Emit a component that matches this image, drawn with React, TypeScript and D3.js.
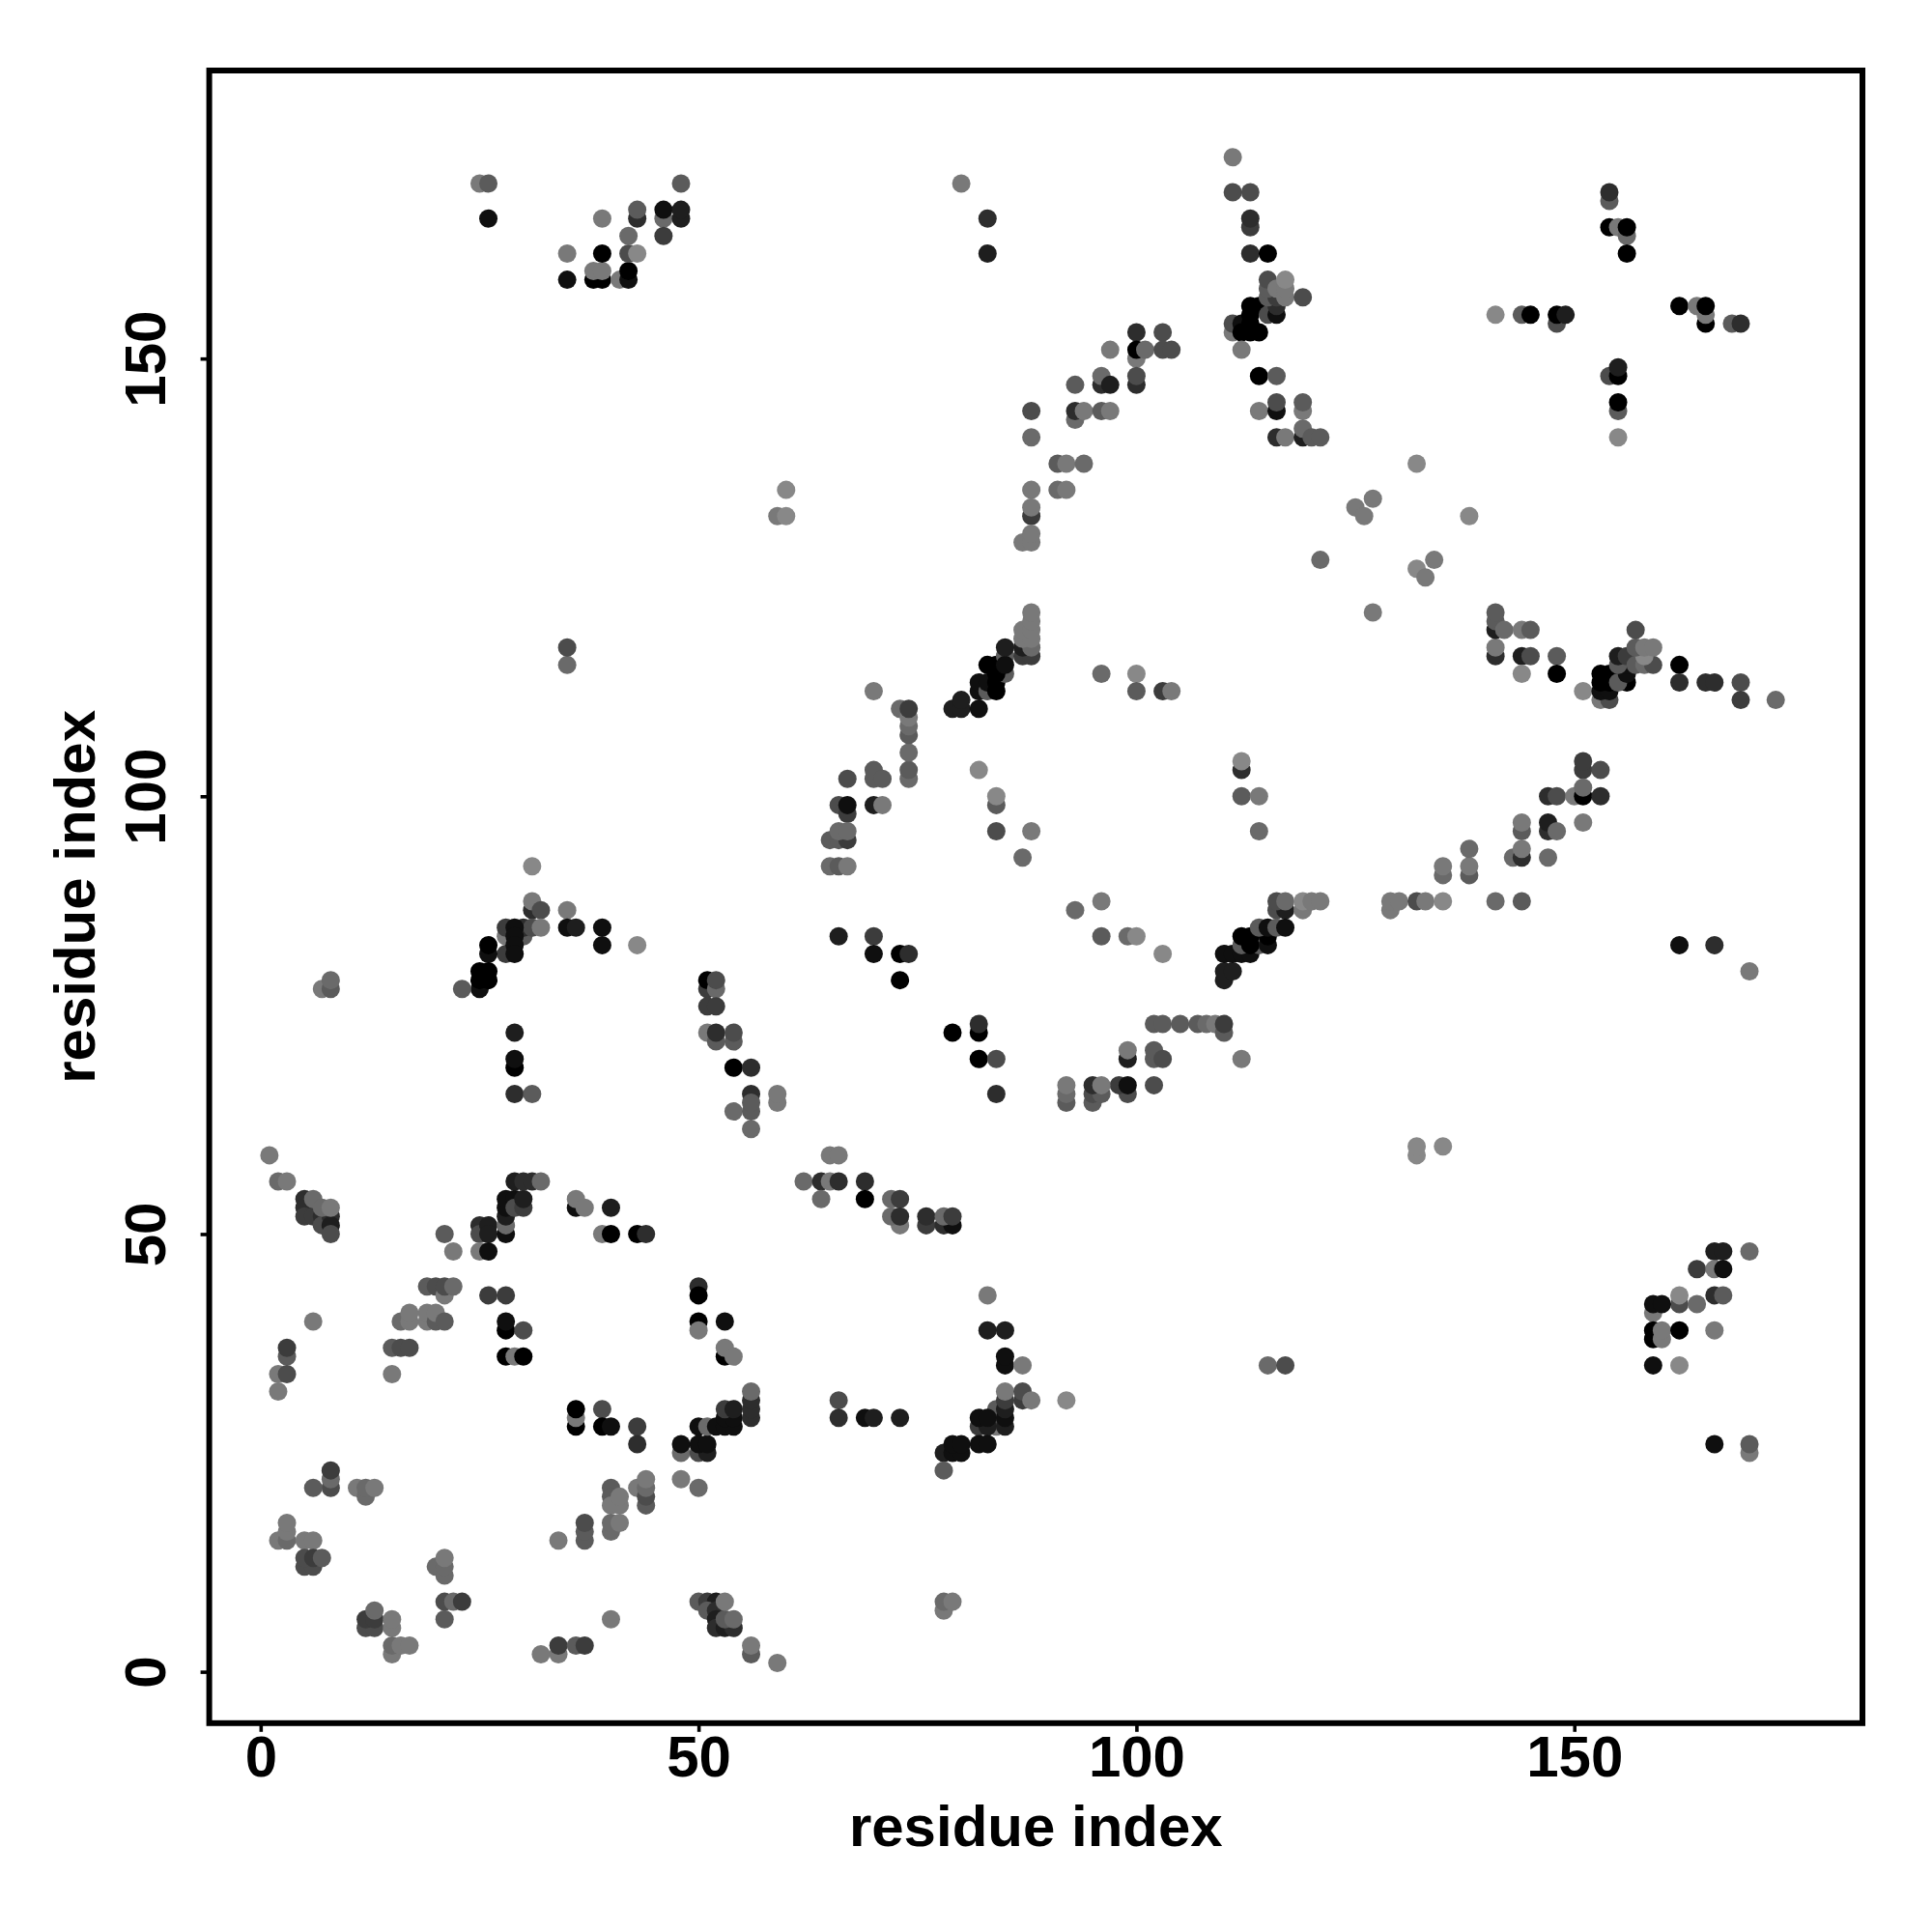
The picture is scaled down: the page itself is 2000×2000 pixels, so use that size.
import React, { useRef, useEffect } from 'react';
import * as d3 from 'd3';

// each contact: residue i, residue j, score 0 (faint) .. 9 (strong)
type Contact = [number, number, number];

const bottomLeft: Contact[] = [
  [1,59,1],[2,56,2],[3,56,1],
  [5,54,6],[5,53,6],[5,52,5],[6,52,5],[7,52,6],[7,51,4],[8,52,6],[8,51,7],[8,50,4],[6,54,2],[7,53,2],[8,53,1],
  [21,50,3],[22,48,1],
  [25,51,6],[25,50,4],[26,51,7],[26,50,7],[25,48,1],[26,48,8],
  [28,50,8],[28,51,2],[28,52,7],[28,53,8],[28,54,8],[29,54,8],[29,53,4],[30,53,5],[30,54,7],
  [29,56,7],[30,56,6],[31,56,6],[32,56,2],
  [36,53,8],[36,54,1],[37,53,1],[40,53,7],[39,50,1],[40,50,9],[43,50,9],[44,50,6],
  [50,44,6],[50,43,9],[50,40,9],[50,39,1],[53,40,8],[53,36,9],[53,37,1],[54,36,1],
  [19,44,3],[20,44,4],[21,43,1],[21,44,4],[22,44,2],
  [26,43,5],[28,43,5],[6,40,1],
  [16,40,2],[17,40,1],[17,41,1],[19,40,1],[19,41,1],[20,40,3],[20,41,1],[21,40,3],
  [15,37,3],[16,37,4],[17,37,4],[15,34,1],
  [3,36,3],[3,37,5],[2,34,1],[3,34,4],[2,32,1],
  [28,39,9],[28,40,8],[30,39,4],[28,36,9],[29,36,1],[30,36,9],
  [36,28,9],[36,29,1],[36,30,9],[39,30,4],[39,28,9],[40,28,8],[43,28,5],[43,26,6],
  [48,25,2],[48,26,8],[50,25,4],[51,25,7],[50,26,8],[51,26,8],
  [50,28,8],[51,28,2],[52,28,8],[53,28,8],[54,28,8],[53,29,8],[54,29,8],[53,30,5],[54,30,7],
  [56,29,6],[56,30,6],[56,31,6],[56,32,2],
  [8,21,4],[8,22,2],[8,23,5],[6,21,3],[11,21,1],[12,20,2],[12,21,2],[13,21,1],
  [40,21,3],[40,20,3],[40,19,1],[41,19,1],[41,20,1],[43,21,1],[44,19,3],[44,20,4],[44,21,2],[44,22,1],
  [40,16,2],[40,17,2],[41,17,1],[37,15,3],[37,16,3],[37,17,4],[34,15,1],[48,22,1],[50,21,2],
  [2,15,1],[3,15,2],[3,16,1],[3,17,1],[5,15,1],[6,15,1],
  [5,12,4],[6,12,4],[5,13,4],[6,13,5],[7,13,3],
  [20,12,2],[21,11,2],[21,12,2],[21,13,1],
  [21,8,4],[22,8,2],[23,8,5],[21,6,3],
  [12,5,4],[13,5,4],[12,6,5],[13,6,5],[13,7,2],[15,5,1],[15,6,1],
  [15,2,1],[15,3,2],[16,3,1],[17,3,1],
  [32,2,1],[34,2,1],[34,3,5],[36,3,3],[37,3,5],[40,6,1],
  [50,8,3],[51,8,5],[52,8,7],[51,7,3],[52,7,6],[52,6,7],[52,5,6],[53,5,7],[54,5,6],[53,6,3],[53,8,1],[54,6,2],
  [56,2,3],[56,3,1],[59,1,1],
];

const bottomMiddle: Contact[] = [
  [65,59,1],[66,59,1],[62,56,2],[64,56,6],[65,56,1],[66,56,6],[64,54,2],[69,56,6],[69,54,9],
  [72,54,2],[73,54,5],[73,51,1],[72,52,2],[73,52,6],[76,51,5],[76,52,6],[78,51,6],[79,51,8],[78,52,2],[79,52,5],
  [83,43,1],[83,39,7],[85,39,7],[85,35,8],[85,36,8],[87,35,1],
  [84,28,1],[84,29,4],[84,30,3],[82,28,5],[83,28,7],[82,29,8],[83,29,8],
  [85,28,7],[85,29,8],[85,30,7],[85,31,5],[85,32,1],[87,31,5],[87,32,4],[88,31,1],[92,31,0],
  [66,31,4],[66,29,6],[69,29,8],[70,29,7],[73,29,7],
  [78,25,7],[79,25,8],[80,25,8],[79,26,8],[80,26,8],[82,26,8],[83,26,8],[78,23,3],
  [115,35,2],[117,35,4],[78,7,1],[78,8,2],[79,8,1],
];

const bottomRight: Contact[] = [
  [132,59,0],[132,60,0],[135,60,0],
  [166,48,7],[167,48,7],[170,48,2],[164,46,5],[166,46,1],[167,46,8],
  [166,43,6],[167,43,3],[162,42,4],[162,43,0],[164,42,2],[159,41,1],[159,42,8],[160,42,8],
  [159,38,9],[159,39,9],[160,38,1],[160,39,1],[162,39,9],[166,39,1],[159,35,8],[162,35,0],
  [166,26,8],[170,25,1],[170,26,3],
];

const centreLeft: Contact[] = [
  [35,115,2],[35,117,4],[31,92,0],[31,87,6],[31,88,1],[32,87,4],[35,87,1],[35,85,8],[36,85,7],[39,83,8],[39,85,8],[43,83,0],
  [28,84,1],[28,82,5],[28,85,5],[30,84,3],[30,85,6],[31,85,4],[29,85,8],[29,84,8],[29,83,8],[29,82,8],[32,85,1],
  [26,82,8],[26,83,9],[25,78,8],[25,79,9],[25,80,9],[26,79,9],[26,80,9],[23,78,3],
  [7,78,1],[8,78,3],[8,79,2],
  [51,78,5],[51,79,9],[52,78,2],[52,79,4],[51,76,5],[52,76,5],[51,73,1],[52,72,3],[52,73,6],[54,72,3],[54,73,4],
  [54,69,9],[56,69,6],[56,66,6],[59,65,1],[59,66,1],[54,64,2],[56,62,2],[56,64,3],[56,65,3],
  [29,73,7],[29,69,9],[29,70,8],[29,66,6],[31,66,3],
];

const centreMiddle: Contact[] = [
  [70,112,1],[73,110,2],[74,102,2],[74,103,3],[74,105,2],[74,107,3],[74,108,2],[74,109,1],[74,110,5],
  [70,102,3],[70,103,3],[71,102,3],[67,102,4],
  [66,99,4],[67,98,5],[67,99,8],[70,99,7],[71,99,1],
  [65,95,3],[66,95,3],[67,95,5],[66,96,2],[67,96,2],[65,92,2],[66,92,3],[67,92,1],
  [79,110,7],[80,110,7],[80,111,7],[82,110,8],[82,112,8],[82,113,8],[83,112,3],[83,113,8],[84,112,9],[84,113,9],
  [85,114,3],[83,115,9],[84,114,9],[84,115,9],[85,116,3],[85,115,8],[85,117,7],
  [87,116,5],[88,116,5],[87,117,7],[88,117,2],[87,118,1],[88,118,1],[87,119,1],[88,119,1],[88,120,1],[88,121,1],
  [96,114,2],[100,114,0],[100,112,3],[103,112,5],[104,112,1],
  [82,103,0],[84,99,3],[84,100,0],[84,96,4],[88,96,1],[87,93,2],
  [112,103,6],[112,104,0],[112,100,3],[114,100,1],[114,96,2],
  [96,88,1],[93,87,2],[96,84,3],[99,84,2],[100,84,0],[103,82,0],
  [66,84,7],[70,84,5],[70,82,8],[73,82,9],[74,82,6],[73,79,9],
  [116,87,4],[117,87,7],[116,88,4],[117,88,2],[119,87,1],[119,88,0],[120,88,1],[121,88,1],
  [110,79,7],[110,80,7],[111,80,7],[110,82,8],[111,82,8],[112,82,8],[113,82,8],
  [112,83,3],[114,83,3],[113,83,9],[115,83,8],[112,84,9],[113,84,9],[115,84,9],[114,85,3],[115,85,8],[116,85,3],[117,85,8],
  [102,74,3],[103,74,3],[105,74,3],[107,74,3],[108,74,2],[109,74,1],[110,73,3],[110,74,5],
  [99,70,7],[99,71,1],[102,70,3],[102,71,3],[103,70,4],[112,70,1],[102,67,4],
  [99,66,4],[98,67,5],[99,67,8],[95,65,3],[95,66,4],[96,66,3],[95,67,6],[96,67,1],[92,65,3],[92,66,2],[92,67,1],
  [79,73,9],[82,73,9],[82,74,6],[82,70,9],[84,70,4],[84,66,6],
];

const centreRight: Contact[] = [
  [141,116,6],[141,117,1],[144,116,7],[145,116,4],[148,116,3],[144,114,0],[148,114,9],[151,112,0],
  [153,111,1],[154,111,4],[153,112,8],[154,112,8],[153,113,9],[154,113,9],[153,114,9],[154,114,9],
  [156,113,9],[155,113,3],[156,114,8],[156,115,8],[155,115,3],[155,116,7],[156,116,5],
  [157,115,3],[158,115,2],[159,115,4],[158,116,0],[157,117,3],[158,117,1],[159,117,1],[157,119,4],
  [162,115,9],[162,113,6],[165,113,6],[166,113,6],[169,113,4],[169,111,5],[173,111,2],
  [151,103,5],[151,104,5],[153,103,4],[147,100,6],[148,100,4],[150,100,1],[151,100,9],[151,101,2],[153,100,6],
  [147,96,6],[147,97,7],[148,96,2],[151,97,1],[144,96,3],[144,97,1],
  [143,93,2],[144,93,6],[144,94,1],[147,93,2],
  [138,91,3],[138,92,1],[138,94,2],[135,91,2],[135,92,1],
  [129,87,1],[129,88,1],[130,88,1],[132,88,4],[133,88,1],[135,88,0],[141,88,2],[144,88,3],
  [162,83,8],[166,83,6],[170,80,1],
];

const topLeft: Contact[] = [
  [25,170,1],[26,170,3],[26,166,8],
  [35,162,1],[35,159,8],[38,159,9],[39,159,9],[38,160,1],[39,160,1],[39,162,9],[39,166,1],
  [41,159,1],[42,159,8],[42,160,9],[42,162,4],[43,162,0],[42,164,2],[43,166,6],[43,167,3],
  [46,166,2],[46,167,8],[46,164,5],[48,166,7],[48,167,7],[48,170,3],
  [59,132,1],[60,132,0],[60,135,0],
];

const topMiddle: Contact[] = [
  [111,173,1],[80,170,1],[111,169,4],[113,169,4],[83,166,6],[113,165,5],[113,166,6],[83,162,7],[113,162,6],[115,162,9],
  [111,153,1],[111,154,4],[112,154,8],[113,154,9],[112,153,9],[113,153,9],[114,153,9],[113,155,9],[113,156,9],[114,156,9],
  [115,155,4],[116,155,8],[116,156,6],[115,157,3],[116,157,5],[115,158,3],[115,159,4],[116,158,1],[117,157,1],[117,158,1],[117,159,0],
  [119,157,4],[112,151,1],
  [100,153,6],[103,153,4],[100,150,1],[100,151,9],[101,151,2],[103,151,4],[104,151,4],[97,151,1],
  [100,147,6],[100,148,4],[96,147,6],[96,148,2],[97,147,7],[93,147,3],
  [88,144,4],[93,143,2],[93,144,6],[94,144,1],[96,144,3],[97,144,1],[88,141,2],
  [91,138,3],[92,138,1],[94,138,2],[88,135,1],[91,135,2],[92,135,1],
  [88,132,5],[88,133,1],[87,129,1],[88,129,1],[88,130,1],
  [114,148,9],[116,148,3],[114,144,1],[116,144,8],[116,145,4],[119,144,1],[119,145,3],
  [116,141,6],[117,141,1],[119,141,7],[119,142,2],[120,141,3],[121,141,3],[121,127,2],
];

const topRight: Contact[] = [
  [125,133,1],[126,132,1],[127,134,1],[132,138,0],[138,132,0],[134,127,1],[132,126,0],[133,125,1],[127,121,1],
  [141,119,7],[141,120,3],[141,121,3],[142,119,2],[144,119,1],[145,119,3],
  [154,168,3],[154,169,6],[154,165,9],[155,165,1],[156,164,2],[156,165,9],[156,162,9],
  [141,155,0],[144,155,3],[145,155,9],[148,154,4],[148,155,9],[149,155,7],
  [162,156,9],[164,156,1],[165,154,9],[165,155,1],[165,156,9],[168,154,3],[169,154,6],
  [154,148,4],[155,148,9],[155,149,7],[155,144,3],[155,145,9],[155,141,0],
];

const xTicks = [0, 50, 100, 150];
const yTicks = [0, 50, 100, 150];
const axisLabel = 'residue index';

const App: React.FC = () => {
  const container = useRef<SVGSVGElement | null>(null);

  useEffect(() => {
    if (!container.current) return;
    const left = 216.6, right = 1928, top = 73, bottom = 1783.8;
    const fontFamily = '"Liberation Sans", Arial, sans-serif';
    const fontSize = 60;

    const xScale = d3.scaleLinear().domain([-5.87, 182.9]).range([left, right]);
    const yScale = d3.scaleLinear().domain([-5.87, 182.9]).range([bottom, top]);
    const gray = d3.scaleLinear().domain([0, 9]).range([136, 0]);

    const svg = d3.select(container.current);
    svg.selectAll('*').remove();

    const contacts = [
      ...bottomLeft, ...bottomMiddle, ...bottomRight,
      ...centreLeft, ...centreMiddle, ...centreRight,
      ...topLeft, ...topMiddle, ...topRight,
    ];

    svg.append('g')
      .selectAll('circle')
      .data(contacts)
      .enter()
      .append('circle')
      .attr('cx', (d) => xScale(d[0]))
      .attr('cy', (d) => yScale(d[1]))
      .attr('r', 9.5)
      .attr('fill', (d) => { const g = Math.round(gray(d[2])); return `rgb(${g},${g},${g})`; });

    svg.append('rect')
      .attr('x', left).attr('y', top)
      .attr('width', right - left).attr('height', bottom - top)
      .attr('fill', 'none').attr('stroke', '#000').attr('stroke-width', 6);

    // x axis
    const xAxis = svg.append('g')
      .attr('transform', `translate(0,${bottom})`)
      .call(d3.axisBottom(xScale).tickValues(xTicks).tickSize(9).tickFormat(d3.format('d')));
    xAxis.select('.domain').remove();
    xAxis.selectAll('line').attr('stroke-width', 3.6).attr('stroke', '#000');
    xAxis.selectAll('text')
      .attr('font-family', fontFamily).attr('font-weight', 'bold').attr('font-size', fontSize).attr('fill', '#000')
      .attr('y', 55.7).attr('dy', null);

    // y axis, labels turned like the x ones
    const yAxis = svg.append('g')
      .attr('transform', `translate(${left},0)`)
      .call(d3.axisLeft(yScale).tickValues(yTicks).tickSize(9).tickFormat(d3.format('d')));
    yAxis.select('.domain').remove();
    yAxis.selectAll('line').attr('stroke-width', 3.6).attr('stroke', '#000');
    yAxis.selectAll('text')
      .attr('font-family', fontFamily).attr('font-weight', 'bold').attr('font-size', fontSize).attr('fill', '#000')
      .attr('x', null).attr('dy', null)
      .attr('text-anchor', 'middle')
      .attr('transform', 'translate(-46,0) rotate(-90)');

    svg.append('text')
      .attr('x', (left + right) / 2).attr('y', 1911)
      .attr('text-anchor', 'middle')
      .attr('font-family', fontFamily).attr('font-weight', 'bold').attr('font-size', fontSize)
      .text(axisLabel);

    svg.append('text')
      .attr('transform', `translate(98,${(top + bottom) / 2}) rotate(-90)`)
      .attr('text-anchor', 'middle')
      .attr('font-family', fontFamily).attr('font-weight', 'bold').attr('font-size', fontSize)
      .text(axisLabel);
  }, []);

  return (
    <svg ref={container} width={2000} height={2000} style={{ position: 'absolute', left: 0, top: 0, background: '#fff' }} />
  );
};

export default App;
